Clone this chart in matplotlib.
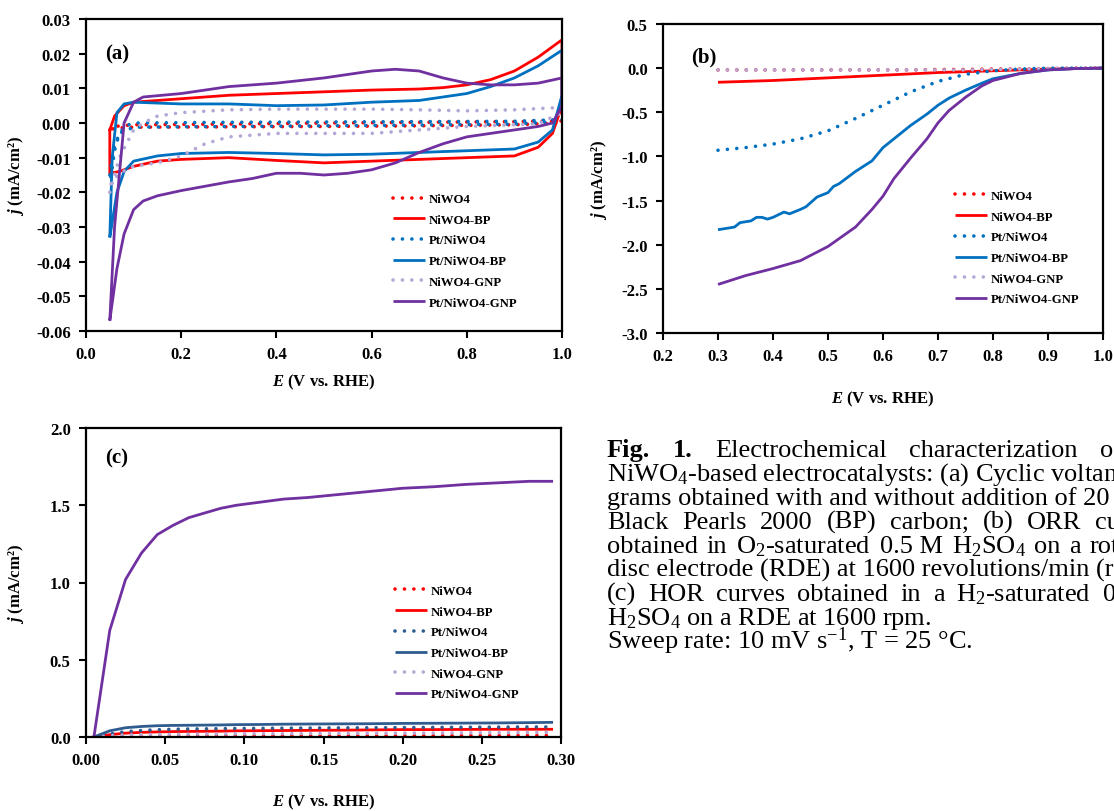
import matplotlib
matplotlib.use("Agg")
import numpy as np
import matplotlib.pyplot as plt
from matplotlib.ticker import FormatStrFormatter, MultipleLocator

plt.rcParams['font.family'] = ['Liberation Serif', 'DejaVu Serif']
plt.rcParams['axes.unicode_minus'] = False
plt.rcParams['mathtext.fontset'] = 'custom'
plt.rcParams['mathtext.rm'] = 'Liberation Serif'
plt.rcParams['mathtext.it'] = 'Liberation Serif:italic:bold'
plt.rcParams['mathtext.bf'] = 'Liberation Serif:bold'

labels = ["NiWO4", "NiWO4-BP", "Pt/NiWO4", "Pt/NiWO4-BP", "NiWO4-GNP", "Pt/NiWO4-GNP"]

# ---- (a) cyclic voltammograms: anodic sweep (up) then cathodic sweep (down)
cv_niwo4_up_E = [0.05, 0.06, 0.1, 0.3, 0.5, 0.7, 0.9, 1.0]
cv_niwo4_up_j = [-0.002, -0.001, -0.0005, -0.0003, 0.0, 0.0002, 0.0004, 0.0006]
cv_niwo4_dn_E = [1.0, 0.9, 0.7, 0.5, 0.3, 0.1, 0.06, 0.05]
cv_niwo4_dn_j = [0.0, -0.0005, -0.0008, -0.001, -0.0011, -0.0012, -0.0015, -0.002]

cv_bp_up_E = [0.05, 0.06, 0.08, 0.1, 0.2, 0.3, 0.4, 0.5, 0.6, 0.7, 0.75, 0.8, 0.85, 0.9, 0.95, 1.0]
cv_bp_up_j = [-0.002, 0.002, 0.005, 0.006, 0.007, 0.008, 0.0085, 0.009, 0.0095, 0.0098, 0.0102,
              0.011, 0.0125, 0.015, 0.019, 0.024]
cv_bp_dn_E = [1.0, 0.98, 0.95, 0.9, 0.8, 0.7, 0.6, 0.5, 0.4, 0.3, 0.2, 0.15, 0.1, 0.07, 0.05, 0.05]
cv_bp_dn_j = [0.005, -0.003, -0.007, -0.0095, -0.0100, -0.0105, -0.0110, -0.0115, -0.0108, -0.0100,
              -0.0105, -0.0110, -0.0125, -0.0140, -0.0145, -0.002]

cv_pt_up_E = [0.05, 0.06, 0.08, 0.1, 0.3, 0.5, 0.7, 0.9, 1.0]
cv_pt_up_j = [-0.015, -0.006, -0.001, 0.0, 0.0002, 0.0003, 0.0004, 0.0005, 0.001]
cv_pt_dn_E = [1.0, 0.9, 0.7, 0.5, 0.3, 0.1, 0.07, 0.06, 0.05]
cv_pt_dn_j = [0.0005, -0.0003, -0.0006, -0.0008, -0.001, -0.0012, -0.003, -0.008, -0.018]

cv_ptbp_up_E = [0.05, 0.055, 0.065, 0.08, 0.1, 0.2, 0.3, 0.4, 0.5, 0.6, 0.7, 0.75, 0.8, 0.85, 0.9, 0.95, 1.0]
cv_ptbp_up_j = [-0.033, -0.01, 0.003, 0.0055, 0.006, 0.0055, 0.0055, 0.005, 0.0052, 0.006, 0.0065,
                0.0075, 0.0085, 0.0105, 0.013, 0.0165, 0.021]
cv_ptbp_dn_E = [1.0, 0.98, 0.95, 0.9, 0.8, 0.7, 0.6, 0.5, 0.4, 0.3, 0.2, 0.15, 0.1, 0.08, 0.065, 0.05]
cv_ptbp_dn_j = [0.008, -0.002, -0.0055, -0.0075, -0.008, -0.0085, -0.009, -0.0092, -0.0088, -0.0085,
                -0.0088, -0.0095, -0.011, -0.014, -0.020, -0.033]

cv_gnp_up_E = [0.05, 0.07, 0.1, 0.12, 0.15, 0.2, 0.3, 0.4, 0.5, 0.6, 0.7, 0.8, 0.9, 1.0]
cv_gnp_up_j = [-0.020, -0.010, -0.002, 0.0, 0.002, 0.003, 0.0038, 0.004, 0.004, 0.004, 0.0038,
               0.0035, 0.0038, 0.0045]
cv_gnp_dn_E = [1.0, 0.95, 0.9, 0.8, 0.7, 0.6, 0.5, 0.4, 0.3, 0.25, 0.2, 0.15, 0.1, 0.07, 0.05]
cv_gnp_dn_j = [0.003, -0.0002, -0.0005, -0.001, -0.002, -0.003, -0.003, -0.003, -0.004, -0.006,
               -0.0095, -0.0115, -0.0125, -0.0145, -0.018]

cv_ptgnp_up_E = [0.05, 0.06, 0.08, 0.1, 0.12, 0.2, 0.3, 0.4, 0.5, 0.6, 0.65, 0.7, 0.75, 0.8, 0.85,
                 0.9, 0.95, 1.0]
cv_ptgnp_up_j = [-0.057, -0.030, 0.0, 0.006, 0.0075, 0.0085, 0.0105, 0.0115, 0.013, 0.015, 0.0155,
                 0.015, 0.013, 0.0115, 0.011, 0.011, 0.0115, 0.013]
cv_ptgnp_dn_E = [1.0, 0.98, 0.95, 0.9, 0.85, 0.8, 0.75, 0.7, 0.65, 0.6, 0.55, 0.5, 0.45, 0.4, 0.35,
                 0.3, 0.2, 0.15, 0.12, 0.1, 0.08, 0.065, 0.05]
cv_ptgnp_dn_j = [0.005, 0.0, -0.001, -0.002, -0.003, -0.004, -0.006, -0.0085, -0.0115, -0.0135,
                 -0.0145, -0.015, -0.0145, -0.0145, -0.016, -0.017, -0.0195, -0.021, -0.0225, -0.025,
                 -0.032, -0.042, -0.057]

# ---- (b) ORR polarisation curves
orr_E = [0.3, 0.35, 0.4, 0.45, 0.5, 0.55, 0.6, 0.65, 0.7, 0.75, 0.8, 0.85, 0.9, 0.95, 1.0]
orr_niwo4 = [-0.02, -0.02, -0.02, -0.02, -0.02, -0.02, -0.02, -0.02, -0.015, -0.015, -0.01, -0.01,
             -0.005, 0.0, 0.0]
orr_bp = [-0.16, -0.15, -0.14, -0.125, -0.11, -0.095, -0.08, -0.065, -0.05, -0.04, -0.03, -0.02,
          -0.01, -0.005, 0.0]
orr_pt = [-0.93, -0.9, -0.86, -0.8, -0.71, -0.57, -0.42, -0.27, -0.15, -0.07, -0.03, -0.01, 0.0,
          0.0, 0.0]
orr_gnp = [-0.02, -0.02, -0.02, -0.02, -0.02, -0.02, -0.02, -0.02, -0.02, -0.02, -0.015, -0.01,
           -0.005, 0.0, 0.0]
orr_ptbp_E = [0.3, 0.32, 0.33, 0.34, 0.36, 0.37, 0.38, 0.39, 0.4, 0.42, 0.43, 0.45, 0.46, 0.48, 0.5,
              0.51, 0.52, 0.55, 0.58, 0.6, 0.62, 0.65, 0.68, 0.7, 0.72, 0.75, 0.78, 0.8, 0.85, 0.9,
              0.95, 1.0]
orr_ptbp = [-1.83, -1.81, -1.80, -1.75, -1.73, -1.69, -1.69, -1.71, -1.69, -1.63, -1.65, -1.60, -1.57,
            -1.46, -1.41, -1.34, -1.31, -1.17, -1.05, -0.90, -0.80, -0.65, -0.52, -0.42, -0.34,
            -0.25, -0.17, -0.12, -0.06, -0.02, -0.005, 0.0]
orr_ptgnp_E = [0.3, 0.33, 0.35, 0.4, 0.45, 0.5, 0.55, 0.58, 0.6, 0.62, 0.65, 0.68, 0.7, 0.72, 0.75,
               0.78, 0.8, 0.85, 0.9, 0.95, 1.0]
orr_ptgnp = [-2.45, -2.39, -2.35, -2.27, -2.18, -2.02, -1.80, -1.60, -1.45, -1.25, -1.02, -0.80,
             -0.62, -0.48, -0.33, -0.20, -0.14, -0.06, -0.02, -0.005, 0.0]

# ---- (c) HOR polarisation curves
hor_E = [0.005, 0.015, 0.025, 0.035, 0.045, 0.055, 0.065, 0.075, 0.085, 0.095, 0.11, 0.125, 0.14,
         0.16, 0.18, 0.2, 0.22, 0.24, 0.26, 0.28, 0.295]
hor_ptgnp = [0.0, 0.69, 1.02, 1.19, 1.31, 1.37, 1.42, 1.45, 1.48, 1.50, 1.52, 1.54, 1.55, 1.57,
             1.59, 1.61, 1.62, 1.635, 1.645, 1.655, 1.655]
hor_ptbp = [0.0, 0.04, 0.06, 0.068, 0.073, 0.075, 0.076, 0.077, 0.078, 0.08, 0.081, 0.083, 0.084,
            0.085, 0.086, 0.088, 0.089, 0.09, 0.091, 0.093, 0.095]
hor_pt = [0.0, 0.02, 0.035, 0.042, 0.047, 0.05, 0.052, 0.053, 0.054, 0.055, 0.056, 0.057, 0.058,
          0.059, 0.06, 0.061, 0.062, 0.063, 0.064, 0.065, 0.065]
hor_bp = [0.0, 0.015, 0.025, 0.03, 0.033, 0.035, 0.036, 0.037, 0.038, 0.04, 0.041, 0.042, 0.043,
          0.044, 0.046, 0.048, 0.048, 0.049, 0.05, 0.05, 0.05]
hor_gnp = [0.0, 0.008, 0.013, 0.015, 0.016, 0.017, 0.018, 0.019, 0.019, 0.02, 0.021, 0.021, 0.022,
           0.023, 0.024, 0.025, 0.026, 0.027, 0.028, 0.029, 0.03]
hor_niwo4 = [0.0, 0.002, 0.003, 0.004, 0.004, 0.005, 0.005, 0.005, 0.006, 0.006, 0.006, 0.007,
             0.007, 0.007, 0.008, 0.008, 0.008, 0.009, 0.009, 0.01, 0.01]

RED = '#FF0000'
BLUE = '#0070C0'
BLUE_C = '#2F5C8F'
LAV = '#B4A7D6'
PURP = '#7030A0'
DOT = (0, (0.01, 2.6))


def style(ax, xlim, ylim, xstep, ystep, xfmt, yfmt):
    ax.set_xlim(*xlim)
    ax.set_ylim(*ylim)
    ax.xaxis.set_major_locator(MultipleLocator(xstep))
    ax.yaxis.set_major_locator(MultipleLocator(ystep))
    ax.xaxis.set_major_formatter(FormatStrFormatter(xfmt))
    ax.yaxis.set_major_formatter(FormatStrFormatter(yfmt))
    ax.tick_params(direction='out', length=5, width=1.5, labelsize=12, pad=6)
    for s in ax.spines.values():
        s.set_linewidth(1.6)
    for t in ax.get_xticklabels() + ax.get_yticklabels():
        t.set_fontweight('bold')


def curve(ax, x, y, color, dotted, lw=2.0):
    if dotted:
        ax.plot(x, y, color=color, lw=2.6, ls=DOT, dash_capstyle='round')
    else:
        ax.plot(x, y, color=color, lw=lw, solid_capstyle='butt')


def leg(ax, x, y):
    ax.legend(labels, loc='upper left', bbox_to_anchor=(x, y), frameon=False, borderpad=0,
              borderaxespad=0, handlelength=2.5, handletextpad=0.3, labelspacing=0.68,
              prop={'family': 'Liberation Serif', 'weight': 'bold', 'size': 9.2})


fig = plt.figure(figsize=(11.14, 8.12), dpi=100)
axa = fig.add_axes([86 / 1114, 1 - 332 / 812, 476 / 1114, 312 / 812])
axb = fig.add_axes([663 / 1114, 1 - 334 / 812, 440 / 1114, 309 / 812])
axc = fig.add_axes([86 / 1114, 1 - 738 / 812, 475 / 1114, 309 / 812])

# (a)
cv_sets = [
    (cv_niwo4_up_E + cv_niwo4_dn_E, cv_niwo4_up_j + cv_niwo4_dn_j, RED, True),
    (cv_bp_up_E + cv_bp_dn_E, cv_bp_up_j + cv_bp_dn_j, RED, False),
    (cv_pt_up_E + cv_pt_dn_E, cv_pt_up_j + cv_pt_dn_j, BLUE, True),
    (cv_ptbp_up_E + cv_ptbp_dn_E, cv_ptbp_up_j + cv_ptbp_dn_j, BLUE, False),
    (cv_gnp_up_E + cv_gnp_dn_E, cv_gnp_up_j + cv_gnp_dn_j, LAV, True),
    (cv_ptgnp_up_E + cv_ptgnp_dn_E, cv_ptgnp_up_j + cv_ptgnp_dn_j, PURP, False),
]
for x, y, c, d in cv_sets:
    curve(axa, x, y, c, d)
style(axa, (0, 1.0), (-0.06, 0.03), 0.2, 0.01, '%.1f', '%.2f')
leg(axa, 0.645, 0.442)
axa.text(0.04, 0.888, '(a)', transform=axa.transAxes, fontsize=15, fontweight='bold', va='center')

# (b)
orr_sets = [
    (orr_E, orr_niwo4, RED, True),
    (orr_E, orr_bp, RED, False),
    (orr_E, orr_pt, BLUE, True),
    (orr_ptbp_E, orr_ptbp, BLUE, False),
    (orr_E, orr_gnp, LAV, True),
    (orr_ptgnp_E, orr_ptgnp, PURP, False),
]
for x, y, c, d in orr_sets:
    curve(axb, x, y, c, d)
style(axb, (0.2, 1.0), (-3.0, 0.5), 0.1, 0.5, '%.1f', '%.1f')
leg(axb, 0.664, 0.463)
axb.text(0.065, 0.896, '(b)', transform=axb.transAxes, fontsize=15, fontweight='bold', va='center')

# (c)
hor_sets = [
    (hor_E, hor_niwo4, RED, True),
    (hor_E, hor_bp, RED, False),
    (hor_E, hor_pt, BLUE_C, True),
    (hor_E, hor_ptbp, BLUE_C, False),
    (hor_E, hor_gnp, LAV, True),
    (hor_E, hor_ptgnp, PURP, False),
]
for x, y, c, d in hor_sets:
    curve(axc, x, y, c, d)
style(axc, (0, 0.30), (0, 2.0), 0.05, 0.5, '%.2f', '%.1f')
leg(axc, 0.65, 0.492)
axc.text(0.04, 0.906, '(c)', transform=axc.transAxes, fontsize=15, fontweight='bold', va='center')

ylab = r'$j$ (mA/cm²)'
xlab = r'$E$ (V vs. RHE)'
for ax, xl_off, yl_off in [(axa, -0.131, -0.126), (axb, -0.181, -0.123), (axc, -0.178, -0.126)]:
    ax.set_xlabel(xlab, fontsize=12, fontweight='bold')
    ax.set_ylabel(ylab, fontsize=12, fontweight='bold')
    ax.xaxis.set_label_coords(0.5, xl_off)
    ax.yaxis.set_label_coords(yl_off, 0.5)

# ---- caption (justified lines are spread word by word)
cap_lines = [
    ([("Fig.", 'bold'), ("1.", 'bold'), ("Electrochemical", 'normal'), ("characterization", 'normal'),
      ("of", 'normal')], 1100),
    ("NiWO$_4$-based electrocatalysts: (a) Cyclic voltammo-", None),
    ("grams obtained with and without addition of 20 wt%", None),
    ([(w, 'normal') for w in ["Black", "Pearls", "2000", "(BP)", "carbon;", "(b)", "ORR", "curves"]], 1095),
    ([(w, 'normal') for w in ["obtained", "in", "O$_2$-saturated", "0.5 M", "H$_2$SO$_4$", "on", "a",
                              "rotating"]], 1090),
    ("disc electrode (RDE) at 1600 revolutions/min (rpm);", None),
    ([(w, 'normal') for w in ["(c)", "HOR", "curves", "obtained", "in", "a", "H$_2$-saturated",
                              "0.5 M"]], 1103),
    ("H$_2$SO$_4$ on a RDE at 1600 rpm.", None),
    ("Sweep rate: 10 mV s$^{-1}$, T = 25 °C.", None),
]
CAP_X = 607
CAP_Y0 = 457
CAP_DY = 24
CAP_FS = 19
renderer = fig.canvas.get_renderer()
for i, (content, x_last) in enumerate(cap_lines):
    yy = 1 - (CAP_Y0 + CAP_DY * i) / 812
    if x_last is None:
        fig.text(CAP_X / 1114, yy, content, fontsize=CAP_FS, fontweight='normal', va='baseline')
        continue
    texts = [fig.text(0, yy, w, fontsize=CAP_FS, fontweight=wt, va='baseline') for w, wt in content]
    widths = [t.get_window_extent(renderer).width for t in texts]
    gap = (x_last - CAP_X - sum(widths[:-1])) / (len(texts) - 1)
    xpos = CAP_X
    for t, w in zip(texts, widths):
        t.set_x(xpos / 1114)
        xpos += w + gap

fig.savefig('out.png', dpi=100)
